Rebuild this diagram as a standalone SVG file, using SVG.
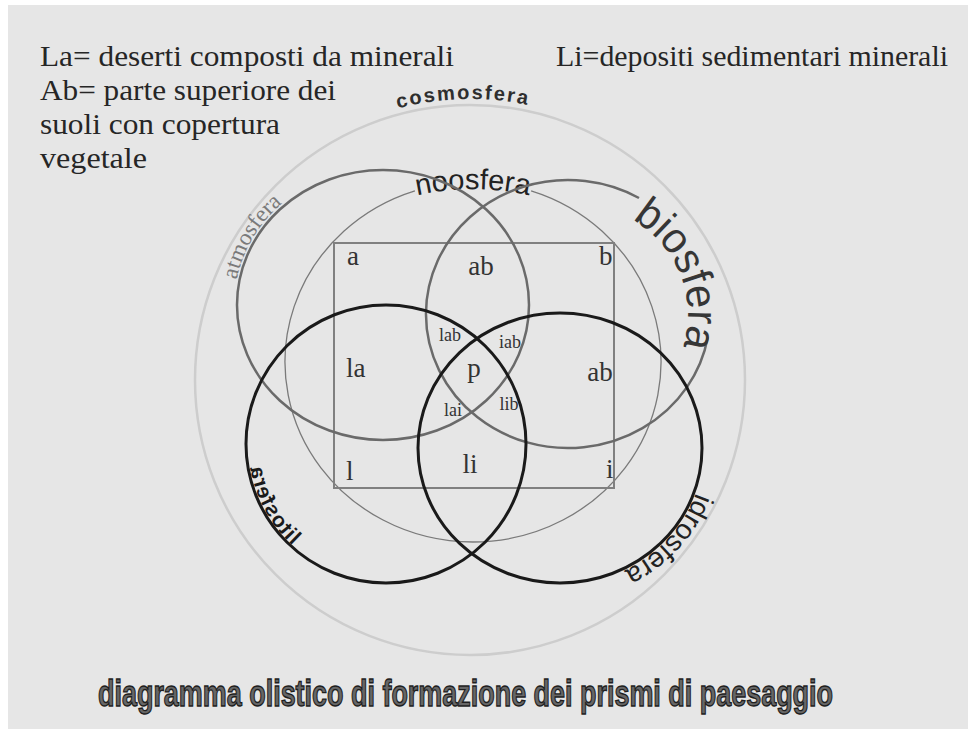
<svg xmlns="http://www.w3.org/2000/svg" width="968" height="729" viewBox="0 0 968 729">
<style>
.note{font-family:"Liberation Serif","Times New Roman",serif;font-size:30px;fill:#262626}
.lbl{font-family:"Liberation Serif","Times New Roman",serif;font-size:27px;fill:#333}
.sm{font-family:"Liberation Serif","Times New Roman",serif;font-size:18px;fill:#333}
.sans{font-family:"Liberation Sans",Arial,sans-serif}
.gray{fill:none;stroke:#6a6a6a;stroke-width:2.5}
.black{fill:none;stroke:#1a1a1a;stroke-width:3}
</style>
<defs>
<path id="pCosmo" d="M271.3,181.3 A281,281 0 0,1 668.7,181.3"/>
<path id="pNoo" d="M306,250 A260,260 0 0,1 640,250"/>
<path id="pAtmo" d="M243,352 A149,138 0 0,1 357.1,169.1"/>
<path id="pBio" d="M547.2,203.7 A120,112 0 0,1 659.9,386"/>
<path id="pIdro" d="M684.7,379.5 A144,137 0 0,1 510.8,576.7"/>
<path id="pLito" d="M410,579.9 A138,138 0 0,0 505.5,375"/>
</defs>
<rect x="0" y="0" width="968" height="729" fill="#ffffff"/>
<rect x="8" y="5" width="960" height="724" fill="#e6e6e6"/>

<g id="notes">
<text class="note" x="40" y="66" textLength="414" lengthAdjust="spacingAndGlyphs">La= deserti composti da minerali</text>
<text class="note" x="556" y="66" textLength="392" lengthAdjust="spacingAndGlyphs">Li=depositi sedimentari minerali</text>
<text class="note" x="40" y="100" textLength="296" lengthAdjust="spacingAndGlyphs">Ab= parte superiore dei</text>
<text class="note" x="40" y="134" textLength="240" lengthAdjust="spacingAndGlyphs">suoli con copertura</text>
<text class="note" x="40" y="168" textLength="107" lengthAdjust="spacingAndGlyphs">vegetale</text>
</g>

<g id="cosmosfera">
<circle cx="470" cy="380" r="275" fill="none" stroke="#cdcdcd" stroke-width="2.5"/>
<text class="sans" font-size="20" font-weight="bold" fill="#2e2e2e" letter-spacing="2"><textPath href="#pCosmo" startOffset="213.7" text-anchor="middle">cosmosfera</textPath></text>
</g>

<g id="noosfera">
<path d="M531.1,190.8 A188,180 0 1,1 414.9,190.8" fill="none" stroke="#7a7a7a" stroke-width="1.3"/>
<text class="sans" font-size="29" fill="#222"><textPath href="#pNoo" startOffset="50%" text-anchor="middle">noosfera</textPath></text>
</g>

<g id="quadro">
<rect x="334" y="243" width="280" height="245" fill="none" stroke="#808080" stroke-width="2"/>
</g>

<g id="atmosfera">
<ellipse class="gray" cx="383" cy="305" rx="146" ry="135"/>
<text font-family="Liberation Serif,serif" font-size="23" fill="#7a7a7a"><textPath href="#pAtmo" startOffset="119" text-anchor="middle">atmosfera</textPath></text>
</g>

<g id="biosfera">
<path class="gray" d="M707.8,337.3 A142,134 0 1,1 639,198"/>
<text class="sans" font-size="43" fill="#363636"><textPath href="#pBio" startOffset="88" textLength="148" lengthAdjust="spacingAndGlyphs">biosfera</textPath></text>
</g>

<g id="litosfera">
<ellipse class="black" cx="386" cy="444" rx="140" ry="139"/>
<g transform="translate(772,0) scale(-1,1)">
<text class="sans" font-size="21" font-weight="bold" fill="#1a1a1a" letter-spacing="1"><textPath href="#pLito" startOffset="124" text-anchor="middle">litosfera</textPath></text>
</g>
</g>

<g id="idrosfera">
<ellipse class="black" cx="560" cy="448" rx="142" ry="135"/>
<text class="sans" font-size="28" fill="#222"><textPath href="#pIdro" startOffset="172" text-anchor="middle">idrosfera</textPath></text>
</g>

<g id="regioni">
<text class="lbl" x="347" y="265">a</text>
<text class="lbl" x="481" y="275" text-anchor="middle">ab</text>
<text class="lbl" x="599" y="265">b</text>
<text class="lbl" x="346" y="377">la</text>
<text class="lbl" x="474" y="377" text-anchor="middle">p</text>
<text class="lbl" x="600" y="381" text-anchor="middle">ab</text>
<text class="lbl" x="346" y="480">l</text>
<text class="lbl" x="470" y="473" text-anchor="middle">li</text>
<text class="lbl" x="606" y="478">i</text>
<text class="sm" x="450" y="341" text-anchor="middle">lab</text>
<text class="sm" x="510" y="348" text-anchor="middle">iab</text>
<text class="sm" x="453" y="416" text-anchor="middle">lai</text>
<text class="sm" x="509" y="410" text-anchor="middle">lib</text>
</g>

<g id="titolo">
<text transform="translate(98,706) scale(1,1.55)" x="0" y="0" font-family="Liberation Sans,Arial,sans-serif" font-weight="bold" font-size="24" fill="#666" stroke="#1e1e1e" stroke-width="0.9" textLength="735" lengthAdjust="spacingAndGlyphs">diagramma olistico di formazione dei prismi di paesaggio</text>
</g>
</svg>
